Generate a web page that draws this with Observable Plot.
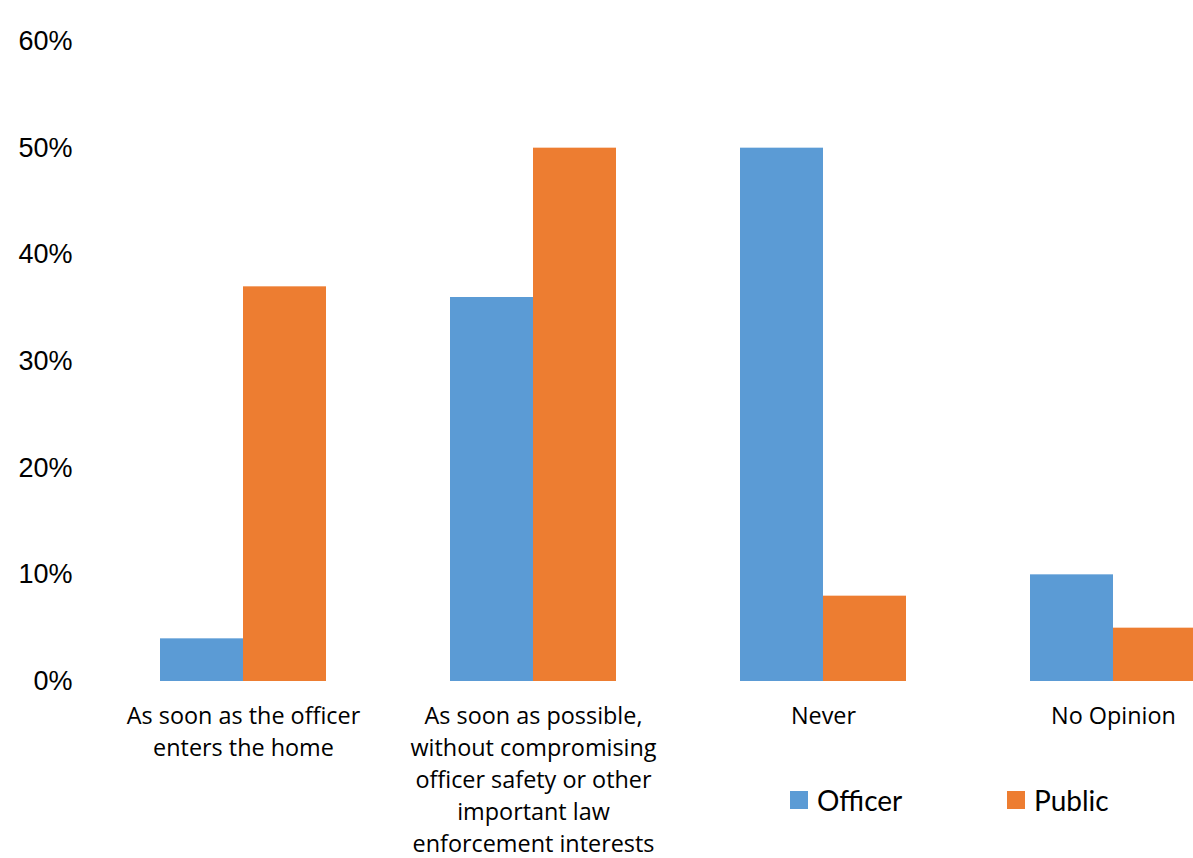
<!DOCTYPE html>
<html>
<head>
<meta charset="utf-8">
<script src="https://cdn.jsdelivr.net/npm/d3@7"></script>
<script src="https://cdn.jsdelivr.net/npm/@observablehq/plot@0.6"></script>
<style>
  html, body { margin: 0; padding: 0; background: #fff; }
  #wrap { position: relative; width: 1193px; height: 858px; overflow: hidden; }
  #wrap svg { overflow: hidden; }
  .leg { position: absolute; top: 783px; font-family: Lato, "Open Sans", sans-serif; font-size: 28px; color: #000; display: flex; align-items: center; }
  .sw { width: 18px; height: 18px; display: inline-block; margin-right: 9px; }
</style>
</head>
<body>
<div id="wrap"></div>
<script>
const categories = [
  "As soon as the officer enters the home",
  "As soon as possible, without compromising officer safety or other important law enforcement interests",
  "Never",
  "No Opinion"
];
const categoryLabels = [
  "As soon as the officer\nenters the home",
  "As soon as possible,\nwithout compromising\nofficer safety or other\nimportant law\nenforcement interests",
  "Never",
  "No Opinion"
];
const series = ["Officer", "Public"];
const officerValues = [4, 36, 50, 10];
const publicValues = [37, 50, 8, 5];
const colors = ["#5B9BD5", "#ED7D31"];
const yTicks = [0, 10, 20, 30, 40, 50, 60];

const data = [];
categories.forEach((c, i) => {
  data.push({category: c, series: series[0], value: officerValues[i]});
  data.push({category: c, series: series[1], value: publicValues[i]});
});
const labelOf = new Map(categories.map((c, i) => [c, categoryLabels[i]]));

const chart = Plot.plot({
  width: 1193,
  height: 858,
  marginLeft: 98,
  marginRight: -65,
  marginTop: 41,
  marginBottom: 177,
  style: {background: "#fff", overflow: "hidden"},
  fx: {domain: categories, paddingInner: 0.4276, paddingOuter: 0.2138, label: null},
  x: {domain: series, padding: 0, axis: null},
  y: {domain: [0, 60], label: null},
  color: {domain: series, range: colors},
  marks: [
    Plot.barY(data, {fx: "category", x: "series", y: "value", fill: "series"}),
    Plot.axisY({ticks: yTicks, tickSize: 0, tickPadding: 88, tickFormat: d => d + "%", fontSize: 27, fontFamily: "'Liberation Sans', Arial, sans-serif", fill: "#000", label: null}),
    Plot.axisFx({anchor: "bottom", tickSize: 0, tickPadding: 20, tickFormat: d => labelOf.get(d), fontSize: 23.4, lineHeight: 1.37, fontFamily: "'Open Sans', Lato, sans-serif", fill: "#000", label: null, textAnchor: "middle"})
  ]
});
const wrap = document.getElementById("wrap");
wrap.appendChild(chart);

// legend (HTML, below/over the chart area)
const legendPos = [790, 1007];
series.forEach((s, i) => {
  const d = document.createElement("div");
  d.className = "leg";
  d.style.left = legendPos[i] + "px";
  const sw = document.createElement("span");
  sw.className = "sw";
  sw.style.background = colors[i];
  d.appendChild(sw);
  d.appendChild(document.createTextNode(s));
  wrap.appendChild(d);
});
</script>
</body>
</html>
